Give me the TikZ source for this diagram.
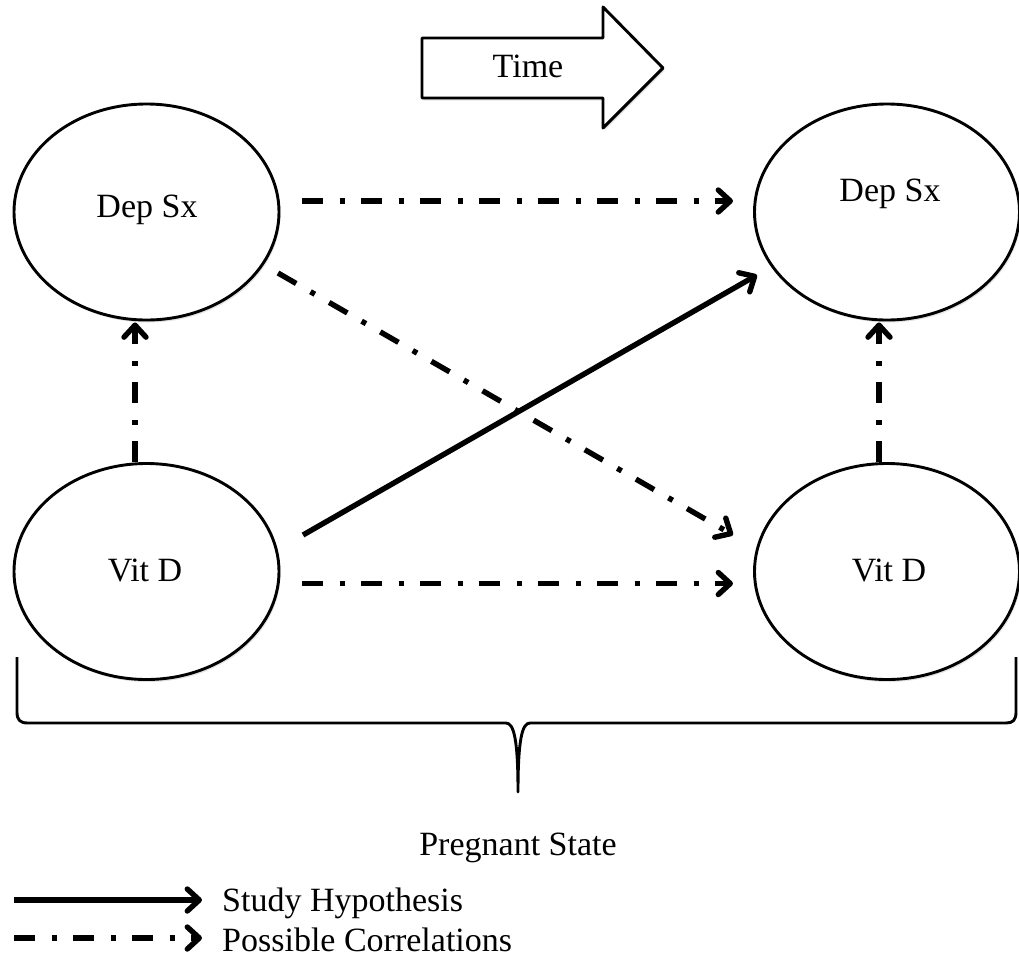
\documentclass[tikz,border=0pt]{standalone}
\usepackage{fontspec}
\setmainfont{Liberation Serif}
\usetikzlibrary{shapes.geometric,arrows.meta,calc,shadows}
\begin{document}
\begin{tikzpicture}[x=1pt,y=-1pt,
  every node/.style={font=\fontsize{34}{40}\selectfont},
  softshadow/.style={drop shadow={opacity=0.22,shadow xshift=1.5pt,shadow yshift=-2.5pt}},
  state/.style={ellipse, draw, line width=2.9pt, fill=white,
    minimum width=265pt, minimum height=216pt, inner sep=0pt, softshadow},
  hyp/.style={line width=5.4pt, -{Straight Barb[length=12pt,width=22pt,round]}},
  corr/.style={hyp, dash pattern=on 21pt off 16.5pt on 5pt off 16.5pt},
  lbl/.style={inner sep=0pt},
  thin line/.style={line width=2.9pt, line join=round},
]
\useasboundingbox (0,0) rectangle (1019,967);

% the four states
\node[state] (dl) at (146.5,212) {};
\node[state] (dr) at (887,212) {};
\node[state] (vl) at (146.5,571.5) {};
\node[state] (vr) at (887,571.5) {};
\node[lbl] (tdl) at (147,210) {Dep Sx};
\node[lbl] (tdr) at (890,194) {Dep Sx};
\node[lbl] (tvl) at (145,570) {Vit D};
\node[lbl] (tvr) at (889,570) {Vit D};

% time arrow
\draw[thin line, fill=white, softshadow]
  (422,38) -- (603,38) -- (603,7) -- (663,68) -- (603,128) -- (603,98) -- (422,98) -- cycle;
\node[lbl] (time) at (528,66) {Time};

% relations over time
\draw[corr] ($(dl.center)+(155.5,-11)$) -- ($(dr.center)+(-154,-11)$);
\draw[corr] ($(vl.center)+(155.5,12)$) -- ($(vr.center)+(-154,12)$);
\draw[corr] ($(vl.north)+(-11.5,0)$) -- ($(dl.south)+(-11.5,1)$);
\draw[corr] ($(vr.north)+(-8,0)$) -- ($(dr.south)+(-8,1)$);
\draw[corr] ($(dl.center)+(131.5,61)$) -- ($(vr.center)+(-154,-36.5)$);
\draw[hyp] ($(vl.center)+(156.5,-36.5)$) -- ($(dr.center)+(-130,63)$);

% brace grouping the pregnant state
\draw[thin line] (17,657) -- (17,712) .. controls (17,720) and (20,723) .. (28,723)
  -- (506,723) .. controls (514,723) and (518,740) .. (518,792)
  .. controls (518,740) and (522,723) .. (530,723)
  -- (1006,723) .. controls (1013,723) and (1016,720) .. (1016,712) -- (1016,657);
\node[lbl] (preg) at (518,848) {Pregnant State};

% legend
\coordinate (h0) at (14,900);
\coordinate (h1) at (202,900);
\draw[hyp] (h0) -- (h1);
\node[lbl, anchor=west] (hyptext) at (222,903) {Study Hypothesis};
\coordinate (c0) at (14,938);
\coordinate (c1) at (202,938);
\draw[corr] (c0) -- (c1);
\node[lbl, anchor=west] (corrtext) at (222,940) {Possible Correlations};
\end{tikzpicture}
\end{document}
